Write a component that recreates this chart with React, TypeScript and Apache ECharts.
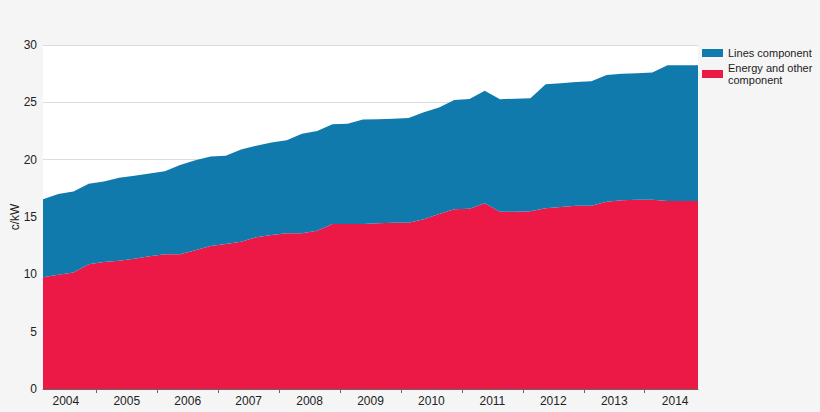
import * as echarts from "echarts";
import { useEffect, useRef } from "react";

// quarterly observations, 2004 Q1 .. 2014 Q4
const quarters = [
	"2004 Q1", "2004 Q2", "2004 Q3", "2004 Q4",
	"2005 Q1", "2005 Q2", "2005 Q3", "2005 Q4",
	"2006 Q1", "2006 Q2", "2006 Q3", "2006 Q4",
	"2007 Q1", "2007 Q2", "2007 Q3", "2007 Q4",
	"2008 Q1", "2008 Q2", "2008 Q3", "2008 Q4",
	"2009 Q1", "2009 Q2", "2009 Q3", "2009 Q4",
	"2010 Q1", "2010 Q2", "2010 Q3", "2010 Q4",
	"2011 Q1", "2011 Q2", "2011 Q3", "2011 Q4",
	"2012 Q1", "2012 Q2", "2012 Q3", "2012 Q4",
	"2013 Q1", "2013 Q2", "2013 Q3", "2013 Q4",
	"2014 Q1", "2014 Q2", "2014 Q3", "2014 Q4"
];

const energyComponent = [
	9.75, 9.97, 10.17, 10.87, 11.07, 11.19, 11.36, 11.57, 11.75, 11.75, 12.1,
	12.48, 12.65, 12.85, 13.23, 13.43, 13.58, 13.58, 13.81, 14.39, 14.39, 14.38,
	14.45, 14.5, 14.5, 14.8, 15.26, 15.67, 15.73, 16.19, 15.46, 15.46, 15.5,
	15.76, 15.87, 15.99, 15.99, 16.34, 16.45, 16.51, 16.51, 16.4, 16.4, 16.4
];

const linesComponent = [
	6.8, 7.03, 7.05, 7.03, 7.03, 7.23, 7.24, 7.23, 7.25, 7.78, 7.84,
	7.8, 7.7, 8.03, 7.99, 8.07, 8.11, 8.69, 8.69, 8.69, 8.75, 9.12,
	9.07, 9.07, 9.13, 9.33, 9.3, 9.53, 9.56, 9.82, 9.81, 9.86, 9.85,
	10.82, 10.79, 10.78, 10.84, 11.04, 11.05, 11.02, 11.09, 11.83, 11.83, 11.83
];

const years = [2004, 2005, 2006, 2007, 2008, 2009, 2010, 2011, 2012, 2013, 2014];

const BLUE = "#117aad";
const RED = "#ec1846";
const FONT = "'Liberation Sans', Arial, sans-serif";

export default function App() {
	const chartRef = useRef<HTMLDivElement>(null);

	useEffect(() => {
		if (!chartRef.current) return;
		document.body.style.margin = "0";

		const chart = echarts.init(chartRef.current, null, { renderer: "svg" });

		chart.setOption({
			animation: false,
			backgroundColor: "#f5f5f5",
			textStyle: { fontFamily: FONT },
			grid: {
				show: true,
				backgroundColor: "#ffffff",
				borderWidth: 0,
				left: 43,
				right: 122,
				top: 45,
				bottom: 23,
				containLabel: false,
				outerBoundsMode: "none"
			},
			legend: {
				orient: "vertical",
				left: 702,
				top: 47,
				padding: 0,
				itemWidth: 21,
				itemHeight: 8,
				itemGap: 3,
				icon: "rect",
				data: ["Lines component", "Energy and other\ncomponent"],
				textStyle: { fontSize: 11, color: "#222", lineHeight: 12 }
			},
			xAxis: [
				{
					type: "category",
					data: quarters,
					boundaryGap: false,
					show: false
				},
				{
					// year axis: quarters sit mid-quarter, year ticks on boundaries
					type: "value",
					position: "bottom",
					min: 2004.125,
					max: 2014.875,
					axisLine: { show: true, lineStyle: { color: "#666", width: 1 } },
					axisTick: {
						show: true,
						length: 4,
						customValues: years.slice(1),
						lineStyle: { color: "#666" }
					},
					axisLabel: {
						customValues: years.map(y => y + 0.5),
						formatter: (v: number) => String(Math.floor(v)),
						color: "#222",
						fontSize: 12,
						margin: 6
					},
					splitLine: { show: false }
				}
			],
			yAxis: {
				type: "value",
				min: 0,
				max: 30,
				interval: 5,
				name: "c/kW",
				nameLocation: "middle",
				nameGap: 22,
				nameMoveOverlap: false,
				nameTextStyle: { fontSize: 12, color: "#222" },
				axisLine: { show: false },
				axisTick: { show: false },
				axisLabel: { color: "#222", fontSize: 12, margin: 6 },
				splitLine: { lineStyle: { color: "#dcdcdc" } }
			},
			series: [
				{
					name: "Energy and other\ncomponent",
					type: "line",
					stack: "total",
					xAxisIndex: 0,
					data: energyComponent,
					showSymbol: false,
					color: RED,
					lineStyle: { width: 0 },
					areaStyle: { color: RED, opacity: 1 }
				},
				{
					name: "Lines component",
					type: "line",
					stack: "total",
					xAxisIndex: 0,
					data: linesComponent,
					showSymbol: false,
					color: BLUE,
					lineStyle: { width: 0 },
					areaStyle: { color: BLUE, opacity: 1 }
				}
			]
		});

		return () => {
			chart.dispose();
		};
	}, []);

	return <div ref={chartRef} style={{ width: 820, height: 412 }} />;
}
